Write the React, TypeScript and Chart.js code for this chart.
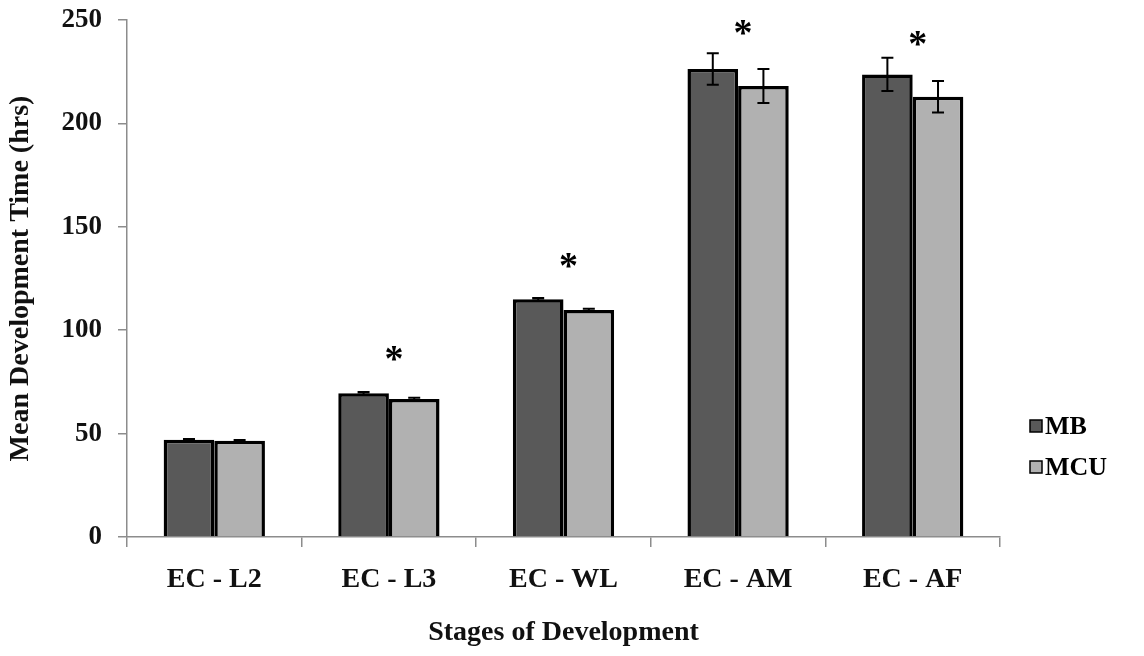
import React, { useEffect, useRef } from "react";
import { Chart, registerables } from "chart.js";

Chart.register(...registerables);

const categories = ["EC - L2", "EC - L3", "EC - WL", "EC - AM", "EC - AF"];
const seriesNames = ["MB", "MCU"];
const mbValues = [47, 69.5, 115, 226.3, 223.7];
const mcuValues = [46.5, 66.7, 109.8, 218.1, 212.9];
const mbErrors = [0.4, 0.6, 0.6, 7.6, 8.0];
const mcuErrors = [0.4, 0.6, 0.6, 8.2, 7.6];
const significanceY: (number | null)[] = [null, 89, 134, 246.5, 241];
const yTicks = [0, 50, 100, 150, 200, 250];

const FONT = '"Liberation Serif", "Times New Roman", serif';
const DARK = "#595959";
const LIGHT = "#b1b1b1";

const errorBarPlugin = {
  id: "errorBars",
  afterDatasetsDraw(chart: any) {
    const ctx = chart.ctx;
    const yScale = chart.scales.y;
    const errs = [mbErrors, mcuErrors];
    ctx.save();
    ctx.strokeStyle = "#000";
    ctx.lineWidth = 2;
    chart.data.datasets.forEach((ds: any, di: number) => {
      const meta = chart.getDatasetMeta(di);
      meta.data.forEach((bar: any, i: number) => {
        const v = ds.data[i];
        const e = errs[di][i];
        const x = bar.x;
        const yTop = yScale.getPixelForValue(v + e);
        const yBot = yScale.getPixelForValue(v - e);
        ctx.beginPath();
        ctx.moveTo(x, yTop);
        ctx.lineTo(x, yBot);
        ctx.moveTo(x - 6, yTop);
        ctx.lineTo(x + 6, yTop);
        ctx.moveTo(x - 6, yBot);
        ctx.lineTo(x + 6, yBot);
        ctx.stroke();
      });
    });
    // significance asterisks
    const xScale = chart.scales.x;
    ctx.fillStyle = "#000";
    ctx.font = `bold 38px ${FONT}`;
    ctx.textAlign = "center";
    ctx.textBaseline = "middle";
    significanceY.forEach((sy, i) => {
      if (sy === null) return;
      const x = xScale.getPixelForValue(i) + 5;
      const y = yScale.getPixelForValue(sy);
      ctx.fillText("*", x, y + 8);
    });
    // legend
    const legendX = 1030;
    const legendYs = [426, 467];
    const colors = [DARK, LIGHT];
    ctx.font = `bold 26px ${FONT}`;
    ctx.textAlign = "left";
    ctx.textBaseline = "middle";
    seriesNames.forEach((name, i) => {
      const ly = legendYs[i];
      ctx.fillStyle = colors[i];
      ctx.fillRect(legendX, ly - 6, 12, 12);
      ctx.strokeStyle = "#000";
      ctx.lineWidth = 1.5;
      ctx.strokeRect(legendX, ly - 6, 12, 12);
      ctx.fillStyle = "#000";
      ctx.fillText(name, legendX + 15, ly + 1);
    });
    ctx.restore();
  },
};

export default function App() {
  const ref = useRef<HTMLCanvasElement | null>(null);
  useEffect(() => {
    if (!ref.current) return;
    const chart = new Chart(ref.current, {
      type: "bar",
      data: {
        labels: categories,
        datasets: [
          {
            label: seriesNames[0],
            data: mbValues,
            backgroundColor: DARK,
            borderColor: "#000",
            borderWidth: 3.5,
            barPercentage: 1,
            categoryPercentage: 0.58,
          },
          {
            label: seriesNames[1],
            data: mcuValues,
            backgroundColor: LIGHT,
            borderColor: "#000",
            borderWidth: 3.5,
            barPercentage: 1,
            categoryPercentage: 0.58,
          },
        ],
      },
      options: {
        responsive: false,
        animation: false,
        layout: { padding: { top: 20, right: 144, bottom: 6, left: 4 } },
        plugins: {
          legend: { display: false },
          tooltip: { enabled: false },
        },
        scales: {
          x: {
            grid: {
              display: true,
              drawOnChartArea: false,
              drawTicks: true,
              tickLength: 10,
              color: "#8c8c8c",
              lineWidth: 1.5,
            },
            border: { color: "#8c8c8c", width: 1.5 },
            ticks: {
              color: "#111",
              font: { family: FONT, size: 28, weight: "bold" },
              padding: 16,
            },
            title: {
              display: true,
              text: "Stages of Development",
              color: "#111",
              font: { family: FONT, size: 28, weight: "bold" },
              padding: { top: 10, bottom: 0 },
            },
            afterFit(scale: any) {
              scale.height = 113;
              scale.paddingLeft = 0;
              scale.paddingRight = 0;
            },
          },
          y: {
            min: 0,
            max: 250,
            afterBuildTicks(scale: any) {
              scale.ticks = yTicks.map((v) => ({ value: v }));
            },
            grid: {
              display: true,
              drawOnChartArea: false,
              drawTicks: true,
              tickLength: 9,
              color: "#8c8c8c",
              lineWidth: 1.5,
            },
            border: { color: "#8c8c8c", width: 1.5 },
            ticks: {
              color: "#111",
              font: { family: FONT, size: 27, weight: "bold" },
              padding: 16,
            },
            title: {
              display: true,
              text: "Mean Development Time (hrs)",
              color: "#111",
              font: { family: FONT, size: 28, weight: "bold" },
              padding: { top: 0, bottom: 2 },
            },
            afterFit(scale: any) {
              scale.width = 123;
              scale.paddingTop = 0;
              scale.paddingBottom = 0;
            },
          },
        },
      },
      plugins: [errorBarPlugin],
    });
    return () => chart.destroy();
  }, []);
  return (
    <div style={{ position: "fixed", left: 0, top: 0, width: 1144, height: 656, background: "#fff" }}>
      <canvas ref={ref} width={1144} height={656} />
    </div>
  );
}
